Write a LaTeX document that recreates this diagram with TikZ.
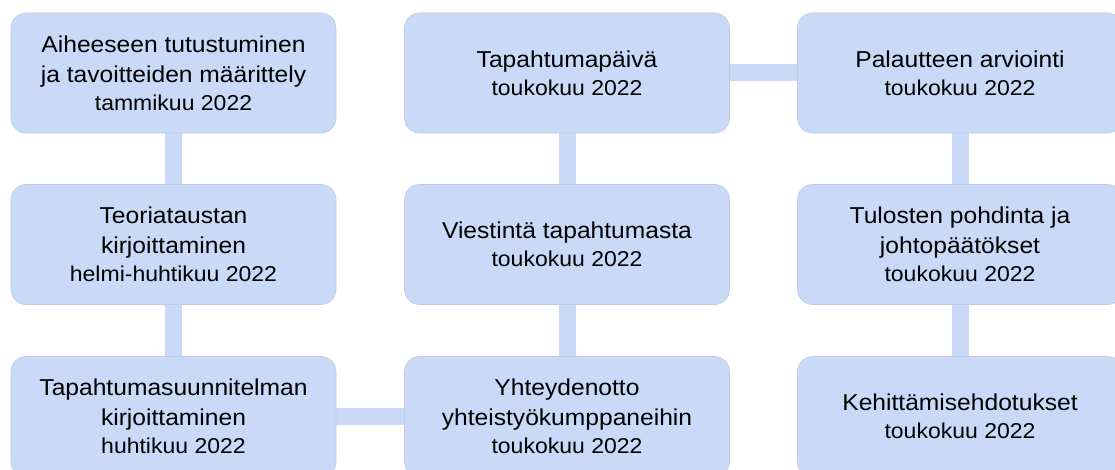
\documentclass[tikz,border=0pt]{standalone}
\usepackage{fontspec}
\setmainfont{Liberation Sans}
\definecolor{boxblue}{HTML}{C9DAF8}
\definecolor{boxedge}{HTML}{BFCBE0}
\newcommand{\mainsz}{\fontsize{23}{30}\selectfont}
\newcommand{\datesz}{\fontsize{21.5}{27}\selectfont}
\tikzset{
  phase/.style={fill=boxblue, draw=boxedge, line width=0.6pt, rounded corners=15pt,
    minimum width=325pt/1.07, minimum height=120pt, inner sep=0pt,
    align=center, font=\mainsz, text=black, xscale=1.07, transform shape},
  link/.style={draw=boxblue, line width=17pt}
}
\begin{document}
\begin{tikzpicture}[x=1pt,y=-1pt]
\clip (0,0) rectangle (1115,470);
\fill[white] (0,0) rectangle (1115,470);
% connectors first (behind boxes)
\coordinate (c11) at (173.5,73);
\coordinate (c21) at (173.5,244.5);
\coordinate (c31) at (173.5,416.5);
\coordinate (c12) at (567,73);
\coordinate (c22) at (567,244.5);
\coordinate (c32) at (567,416.5);
\coordinate (c13) at (960,73);
\coordinate (c23) at (960,244.5);
\coordinate (c33) at (960,416.5);
\path[link] (c11) -- (c21) -- (c31) -- (c32) -- (c22) -- (c12) -- (c13) -- (c23) -- (c33);
\node[phase] (a) at (c11) {Aiheeseen tutustuminen\\ja tavoitteiden määrittely\\[-2pt]{\datesz tammikuu 2022}};
\node[phase] (b) at (c21) {Teoriataustan\\kirjoittaminen\\[-2pt]{\datesz helmi-huhtikuu 2022}};
\node[phase] (c) at (c31) {Tapahtumasuunnitelman\\kirjoittaminen\\[-2pt]{\datesz huhtikuu 2022}};
\node[phase] (d) at (c32) {Yhteydenotto\\yhteistyökumppaneihin\\[-2pt]{\datesz toukokuu 2022}};
\node[phase] (e) at (c22) {Viestintä tapahtumasta\\[-2pt]{\datesz toukokuu 2022}};
\node[phase] (f) at (c12) {Tapahtumapäivä\\[-2pt]{\datesz toukokuu 2022}};
\node[phase] (g) at (c13) {Palautteen arviointi\\[-2pt]{\datesz toukokuu 2022}};
\node[phase] (h) at (c23) {Tulosten pohdinta ja\\johtopäätökset\\[-2pt]{\datesz toukokuu 2022}};
\node[phase] (i) at (c33) {Kehittämisehdotukset\\[-2pt]{\datesz toukokuu 2022}};
\end{tikzpicture}
\end{document}
